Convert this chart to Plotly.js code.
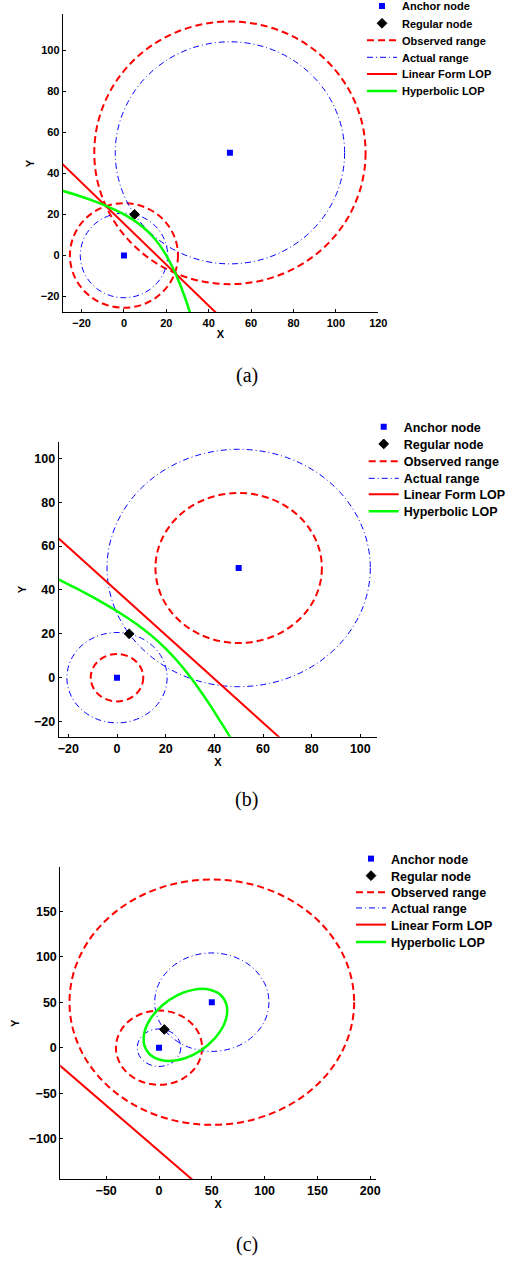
<!DOCTYPE html>
<html><head><meta charset="utf-8">
<script src="https://cdn.plot.ly/plotly-3.0.1.min.js"></script>
<style>html,body{margin:0;padding:0;background:#fff}</style>
</head><body><div id="chart" style="width:516px;height:1262px"></div>
<script>
// ---------- data ----------
const anchorX = [0, 50];
const anchorY = [0, 50];
const regularX = [5];
const regularY = [20];
const actualRadius = [20.6, 54.1];

const observedRadiusA = [25.5, 64];
const observedRadiusB = [10.8, 34.2];
const observedRadiusC = [40.8, 134.8];

const linearA_x = [-30, 45];
const linearA_y = [45.5, -29.5];
const linearB_x = [-25, 70];
const linearB_y = [64.5, -30.5];
const linearC_x = [-100, 40];
const linearC_y = [-13.5, -153.5];

const hyperA_x = [-30.3, -21.7, -13.4, -5.5, 1.9, 8.5, 14.2, 18.9, 22.8, 26.2, 29.2, 31.9];
const hyperA_y = [31.9, 29.2, 26.2, 22.8, 18.9, 14.2, 8.5, 1.9, -5.5, -13.4, -21.7, -30.3];
const hyperB_x = [-27.1, -19.8, -12.6, -5.6, 1.2, 7.7, 13.8, 19.5, 24.7, 29.5, 34.0, 38.3, 42.4, 46.5, 50.4];
const hyperB_y = [46.5, 42.4, 38.3, 34.0, 29.5, 24.7, 19.5, 13.8, 7.7, 1.2, -5.6, -12.6, -19.8, -27.1, -34.5];
const hyperC_x = [58.1, 47.3, 33.1, 17.6, 3.3, -7.8, -13.8, -13.9, -8.1, 2.7, 17.0, 32.4, 46.7, 57.8, 63.8, 63.9, 58.1];
const hyperC_y = [58.1, 63.9, 63.8, 57.8, 46.7, 32.4, 17.0, 2.7, -8.1, -13.9, -13.8, -7.8, 3.3, 17.6, 33.1, 47.3, 58.1];

const xTicksA = [-20, 0, 20, 40, 60, 80, 100, 120];
const yTicksA = [-20, 0, 20, 40, 60, 80, 100];
const xTicksB = [-20, 0, 20, 40, 60, 80, 100];
const yTicksB = [-20, 0, 20, 40, 60, 80, 100];
const xTicksC = [-50, 0, 50, 100, 150, 200];
const yTicksC = [-100, -50, 0, 50, 100, 150];

const legendNames = ['Anchor node', 'Regular node', 'Observed range', 'Actual range', 'Linear Form LOP', 'Hyperbolic LOP'];
const captions = ['(a)', '(b)', '(c)'];
const xTitle = 'X';
const yTitle = 'Y';

// ---------- layout helpers ----------
const W = 516, H = 1262;
const SANS = 'Liberation Sans, Arial, sans-serif';
const SERIF = 'Liberation Serif, Times New Roman, serif';

const panels = [
  {xa:'x', ya:'y', px:[62.7, 378.3], py:[14.3, 312.3], xr:[-28.9, 120], yr:[-27.7, 117.5],
   xt:xTicksA, yt:yTicksA, fs:11, ytX:30, obs:observedRadiusA, lx:linearA_x, ly:linearA_y, hx:hyperA_x, hy:hyperA_y,
   legX:362, rows:[6, 23.3, 40.3, 57.3, 74, 91], capY:376},
  {xa:'x2', ya:'y2', px:[58.7, 377], py:[442.3, 736.7], xr:[-23.96, 106.85], yr:[-26.9, 107.3],
   xt:xTicksB, yt:yTicksB, fs:12.5, ytX:21.7, obs:observedRadiusB, lx:linearB_x, ly:linearB_y, hx:hyperB_x, hy:hyperB_y,
   legX:363.7, rows:[427, 444.3, 461.7, 478.7, 494.7, 511.7], capY:799},
  {xa:'x3', ya:'y3', px:[60.3, 376], py:[867.3, 1179.3], xr:[-93.5, 205.5], yr:[-144.6, 198.2],
   xt:xTicksC, yt:yTicksC, fs:12.5, ytX:15.7, obs:observedRadiusC, lx:linearC_x, ly:linearC_y, hx:hyperC_x, hy:hyperC_y,
   legX:351, rows:[859, 876, 892.7, 908.3, 925, 942.3], capY:1244.3}
];

const traces = [];
const shapes = [];
const annotations = [];
const layout = {
  width: W, height: H,
  margin: {l:0, r:0, t:0, b:0, autoexpand:false},
  paper_bgcolor: '#fff', plot_bgcolor: '#fff',
  hovermode: false, dragmode: false, showlegend: true,
  shapes, annotations
};

function legId(p, i) { const n = p * 6 + i + 1; return n === 1 ? 'legend' : 'legend' + n; }

panels.forEach((P, p) => {
  const axN = p === 0 ? '' : String(p + 1);
  const common = {
    showgrid:false, zeroline:false, showline:true, linecolor:'#000', linewidth:1,
    ticks:'inside', ticklen:3, tickwidth:1, tickcolor:'#000', mirror:false,
    tickmode:'array', fixedrange:true, automargin:false,
    tickfont:{family:SANS, size:P.fs, weight:'bold', color:'#000'}
  };
  layout['xaxis' + axN] = Object.assign({}, common, {
    domain:[P.px[0] / W, P.px[1] / W], range:P.xr, tickvals:P.xt, anchor:P.ya,
    title:{text:xTitle, font:{family:SANS, size:11, weight:'bold', color:'#000'}, standoff:2}
  });
  layout['yaxis' + axN] = Object.assign({}, common, {
    domain:[1 - P.py[1] / H, 1 - P.py[0] / H], range:P.yr, tickvals:P.yt, anchor:P.xa
  });

  // Y axis title (placed as rotated text next to the axis)
  annotations.push({xref:'paper', yref:'paper', x:P.ytX / W, y:1 - (P.py[0] + P.py[1]) / 2 / H,
    xanchor:'center', yanchor:'middle', showarrow:false, text:yTitle, textangle:-90,
    font:{family:SANS, size:11, weight:'bold', color:'#000'}});

  // range circles
  for (let i = 0; i < 2; i++) {
    const r = P.obs[i];
    shapes.push({type:'circle', xref:P.xa, yref:P.ya, layer:'below',
      x0:anchorX[i] - r, x1:anchorX[i] + r, y0:anchorY[i] - r, y1:anchorY[i] + r,
      line:{color:'#ff0000', width:2, dash:'7px,4px'}});
  }
  for (let i = 0; i < 2; i++) {
    const r = actualRadius[i];
    shapes.push({type:'circle', xref:P.xa, yref:P.ya, layer:'below',
      x0:anchorX[i] - r, x1:anchorX[i] + r, y0:anchorY[i] - r, y1:anchorY[i] + r,
      line:{color:'#0000ff', width:1, dash:'6px,3px,1px,3px'}});
  }

  const base = {xaxis:P.xa, yaxis:P.ya, hoverinfo:'skip', showlegend:true};
  traces.push(Object.assign({}, base, {x:anchorX, y:anchorY, mode:'markers', name:legendNames[0],
    marker:{symbol:'square', size:6, color:'#0000ff'}, legend:legId(p, 0)}));
  traces.push(Object.assign({}, base, {x:regularX, y:regularY, mode:'markers', name:legendNames[1],
    marker:{symbol:'diamond', size:7.5, color:'#000', line:{color:'#000', width:1}}, legend:legId(p, 1)}));
  traces.push(Object.assign({}, base, {x:[null], y:[null], mode:'lines', name:legendNames[2],
    line:{color:'#ff0000', width:2, dash:'7px,4px'}, legend:legId(p, 2)}));
  traces.push(Object.assign({}, base, {x:[null], y:[null], mode:'lines', name:legendNames[3],
    line:{color:'#0000ff', width:1, dash:'6px,3px,1px,3px'}, legend:legId(p, 3)}));
  traces.push(Object.assign({}, base, {x:P.lx, y:P.ly, mode:'lines', name:legendNames[4],
    line:{color:'#ff0000', width:2}, legend:legId(p, 4)}));
  traces.push(Object.assign({}, base, {x:P.hx, y:P.hy, mode:'lines', name:legendNames[5],
    line:{color:'#00ff00', width:2.5, shape:'spline', smoothing:1}, legend:legId(p, 5)}));

  for (let i = 0; i < 6; i++) {
    layout[legId(p, i)] = {
      x:P.legX / W, xanchor:'left', y:1 - P.rows[i] / H, yanchor:'middle',
      bgcolor:'rgba(0,0,0,0)', borderwidth:0, visible:true,
      font:{family:SANS, size:P.fs, weight:'bold', color:'#000'}
    };
  }

  annotations.push({xref:'paper', yref:'paper', x:246.7 / W, y:1 - P.capY / H,
    xanchor:'center', yanchor:'middle', showarrow:false, text:captions[p],
    font:{family:SERIF, size:20, color:'#000'}});
});

Plotly.newPlot('chart', traces, layout, {staticPlot:true, displayModeBar:false});
</script>
</body></html>
